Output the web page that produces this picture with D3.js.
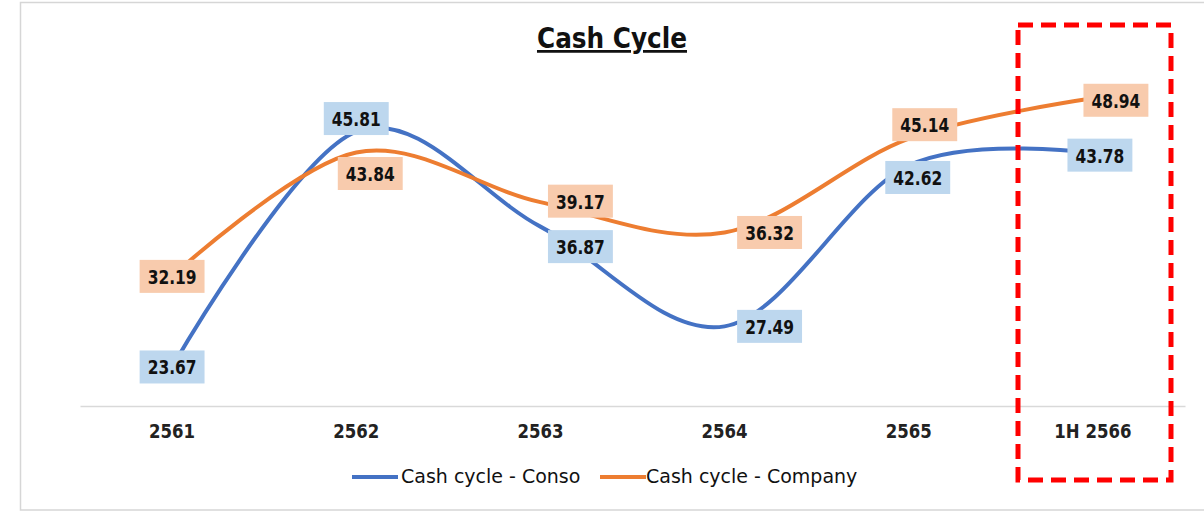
<!DOCTYPE html>
<html>
<head>
<meta charset="utf-8">
<script src="https://cdn.jsdelivr.net/npm/d3@7/dist/d3.min.js"></script>
<style>
  html, body { margin: 0; padding: 0; background: #fff; }
  svg { display: block; }
</style>
</head>
<body>
<svg id="chart" width="1204" height="513"></svg>
<script>
// ---- data ----
const categories = ["2561", "2562", "2563", "2564", "2565", "1H 2566"];
const consoValues = [23.67, 45.81, 36.87, 27.49, 42.62, 43.78];
const companyValues = [32.19, 43.84, 39.17, 36.32, 45.14, 48.94];
const seriesNames = ["Cash cycle - Conso", "Cash cycle - Company"];
const yDomain = [20, 50];

// ---- label placement (offset of label centre from point, px) ----
const consoLabelOffsets = [[0, 0], [0, -13], [40, 20], [45, 0], [9, 12], [7, 2]];
const companyLabelOffsets = [[0, 0], [14, 21], [40, -1], [45, 0], [16, -14], [23, 2]];

const FONT_C = "'DejaVu Sans Condensed', 'DejaVu Sans', sans-serif";
const FONT = "'DejaVu Sans', sans-serif";
const svg = d3.select("#chart");

// outer frame
svg.append("rect")
  .attr("x", 20.5).attr("y", 2.5).attr("width", 1200).attr("height", 507.5)
  .attr("fill", "#fff").attr("stroke", "#d6d6d6").attr("stroke-width", 1.5);

const x = d3.scaleBand().domain(categories).range([80, 1185]);
const y = d3.scaleLinear().domain(yDomain).range([406, 87]);
const cx = c => x(c) + x.bandwidth() / 2;

// axis
const xAxis = d3.axisBottom(x).tickSize(0).tickPadding(0);
const gx = svg.append("g").attr("transform", "translate(0,406)").call(xAxis);
gx.select(".domain").attr("stroke", "#d9d9d9").attr("stroke-width", 1.5);
gx.selectAll(".tick text")
  .attr("dy", "0")
  .attr("y", 0)
  .attr("transform", "translate(0,32) scale(0.92,1)")
  .attr("fill", "#222")
  .style("font-family", FONT_C)
  .style("font-weight", "bold")
  .style("font-size", "20px");

// title
svg.append("text")
  .attr("x", 612).attr("y", 48)
  .attr("text-anchor", "middle")
  .style("font-family", FONT_C).style("font-weight", "bold").style("font-size", "27.5px")
  .attr("fill", "#111")
  .attr("text-decoration", "underline")
  .text("Cash Cycle");

const series = [
  { name: seriesNames[0], values: consoValues, color: "#4472c4", fill: "#bdd7ee", offs: consoLabelOffsets },
  { name: seriesNames[1], values: companyValues, color: "#ed7d31", fill: "#f8cbad", offs: companyLabelOffsets }
];

const line = d3.line()
  .x((d, i) => cx(categories[i]))
  .y(d => y(d))
  .curve(d3.curveCardinal.tension(0));

series.forEach(s => {
  svg.append("path")
    .datum(s.values)
    .attr("d", line)
    .attr("fill", "none")
    .attr("stroke", s.color)
    .attr("stroke-width", 4)
    .attr("stroke-linecap", "round");
});

// labels
const SX = 0.86;
series.forEach(s => {
  s.values.forEach((v, i) => {
    const px = cx(categories[i]) + s.offs[i][0];
    const py = y(v) + s.offs[i][1];
    const g = svg.append("g");
    const t = g.append("text")
      .attr("x", 0).attr("y", 0)
      .attr("transform", `translate(${px},${py + 7.5}) scale(${SX},1)`)
      .attr("text-anchor", "middle")
      .style("font-family", FONT_C).style("font-weight", "bold").style("font-size", "20px")
      .attr("fill", "#111")
      .text(v.toFixed(2));
    const bb = t.node().getBBox();
    const w = bb.width * SX + 16, h = 33;
    g.insert("rect", "text")
      .attr("x", px - w / 2).attr("y", py - h / 2)
      .attr("width", w).attr("height", h)
      .attr("fill", s.fill);
  });
});

// legend
const legendPos = [[352, 400], [600, 645]];
series.forEach((s, i) => {
  const [lx, tx] = legendPos[i];
  svg.append("line")
    .attr("x1", lx).attr("x2", lx + 46).attr("y1", 477).attr("y2", 477)
    .attr("stroke", s.color).attr("stroke-width", 4);
  svg.append("text")
    .attr("x", tx + 1).attr("y", 483)
    .style("font-family", FONT).style("font-size", "19px")
    .attr("fill", "#111")
    .text(s.name);
});

// red dashed highlight box
svg.append("rect")
  .attr("x", 1018).attr("y", 25).attr("width", 153).attr("height", 455)
  .attr("fill", "none").attr("stroke", "#ff0000").attr("stroke-width", 5)
  .attr("stroke-dasharray", "15 8");
</script>
</body>
</html>
